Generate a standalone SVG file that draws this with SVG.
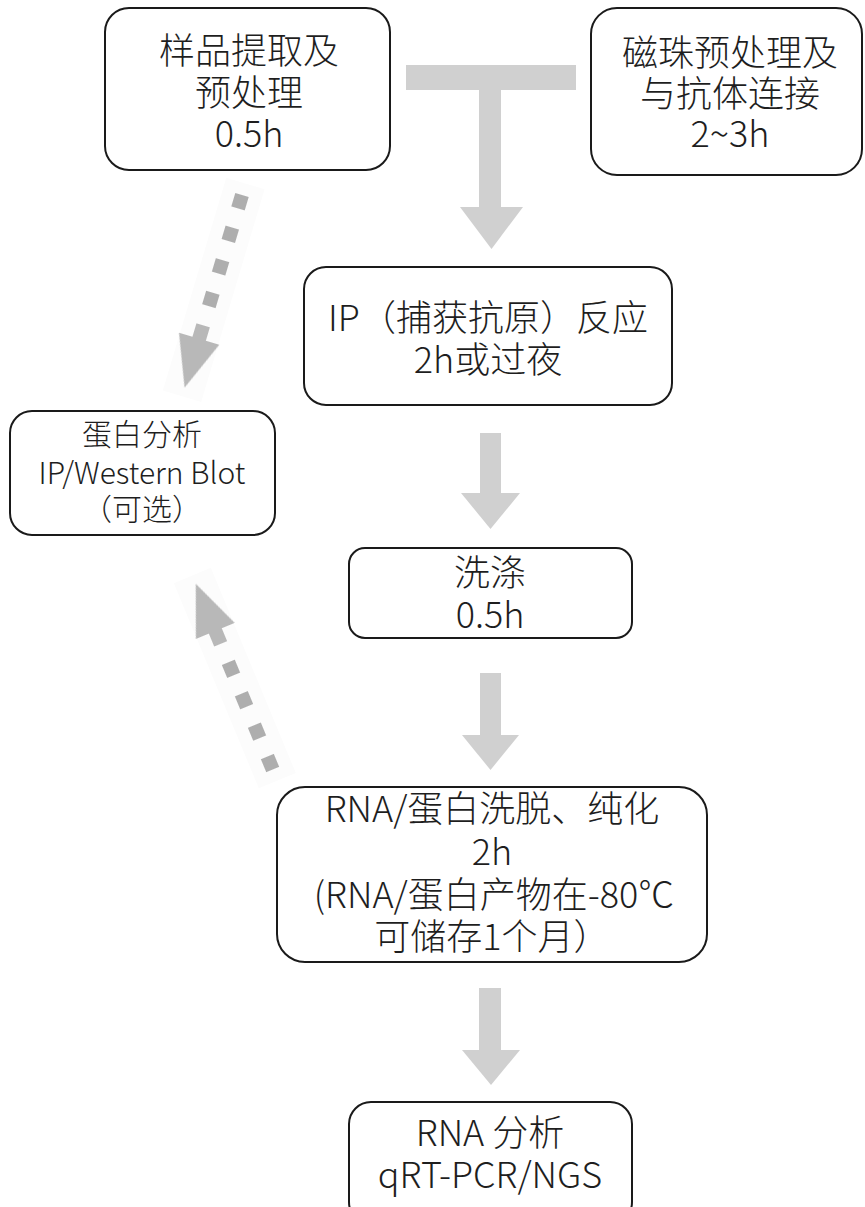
<svg xmlns="http://www.w3.org/2000/svg" width="865" height="1207" viewBox="0 0 865 1207">
<style>
.box{fill:#fff;stroke:#1a1a1a;stroke-width:2}
.t{font-family:"Noto Sans CJK SC","Noto Sans",sans-serif;font-size:36px;font-weight:300;fill:#1e1e1e;text-anchor:middle}
.s{font-size:30px}
.arr{fill:#d0d0d0}
.dash{fill:#aeaeae}
.head{fill:#b8b8b8}
.halo{fill:#fcfcfc}
</style>
<defs>
<filter id="soft" x="-20%" y="-20%" width="140%" height="140%"><feGaussianBlur stdDeviation="0.7"/></filter>
<g id="dashArrow">
<rect class="halo" x="-20" y="-12" width="40" height="222"/>
<g filter="url(#soft)">
<rect class="dash" x="-7" y="0" width="14" height="14"/>
<rect class="dash" x="-7" y="34" width="14" height="14"/>
<rect class="dash" x="-7" y="68" width="14" height="14"/>
<rect class="dash" x="-7" y="102" width="14" height="14"/>
<rect class="head" x="-7" y="136" width="14" height="16"/>
<polygon class="head" points="-21,150 21,150 0,201"/>
</g>
</g>
</defs>
<rect width="865" height="1207" fill="#fff"/>
<g id="connectors">
<rect class="arr" x="406" y="65" width="170" height="25"/>
<rect class="arr" x="479" y="89" width="22" height="119"/>
<polygon class="arr" points="460,207 523,207 491.5,249"/>
<rect class="arr" x="480" y="433" width="21" height="61"/>
<polygon class="arr" points="461,493 520,493 490.5,529"/>
<rect class="arr" x="480" y="673" width="21" height="63"/>
<polygon class="arr" points="462,735 519,735 490.5,770"/>
<rect class="arr" x="479" y="988" width="22" height="63"/>
<polygon class="arr" points="462,1050 520,1050 491,1085"/>
<use href="#dashArrow" transform="translate(242,195) rotate(16.6)"/>
<use href="#dashArrow" transform="translate(272.7,769.5) rotate(157.5)"/>
</g>
<g id="n1">
<rect class="box" x="105" y="8" width="285" height="162" rx="24"/>
<text class="t"><tspan x="249" y="64">样品提取及</tspan><tspan x="249" y="106">预处理</tspan><tspan x="249" y="147">0.5h</tspan></text>
</g>
<g id="n2">
<rect class="box" x="591" y="8" width="271" height="167" rx="26"/>
<text class="t"><tspan x="730" y="66">磁珠预处理及</tspan><tspan x="730" y="107">与抗体连接</tspan><tspan x="730" y="147">2~3h</tspan></text>
</g>
<g id="n3">
<rect class="box" x="304" y="267" width="368" height="138" rx="22"/>
<text class="t"><tspan x="488" y="331">IP（捕获抗原）反应</tspan><tspan x="488" y="373">2h或过夜</tspan></text>
</g>
<g id="n4">
<rect class="box" x="349" y="548" width="283" height="90" rx="16"/>
<text class="t"><tspan x="490" y="586">洗涤</tspan><tspan x="490" y="628">0.5h</tspan></text>
</g>
<g id="n5">
<rect class="box" x="277" y="787" width="430" height="175" rx="28"/>
<text class="t"><tspan x="492" y="822">RNA/蛋白洗脱、纯化</tspan><tspan x="492" y="865">2h</tspan><tspan x="494" y="908">(RNA/蛋白产物在-80℃</tspan><tspan x="492" y="950">可储存1个月）</tspan></text>
</g>
<g id="n6">
<rect class="box" x="349" y="1102" width="283" height="122" rx="22"/>
<text class="t"><tspan x="490" y="1146">RNA 分析</tspan><tspan x="490" y="1188">qRT-PCR/NGS</tspan></text>
</g>
<g id="n7">
<rect class="box" x="10" y="411" width="265" height="124" rx="22"/>
<text class="t s"><tspan x="142" y="445">蛋白分析</tspan><tspan x="142" y="484">IP/Western Blot</tspan><tspan x="142" y="520">（可选）</tspan></text>
</g>
</svg>
